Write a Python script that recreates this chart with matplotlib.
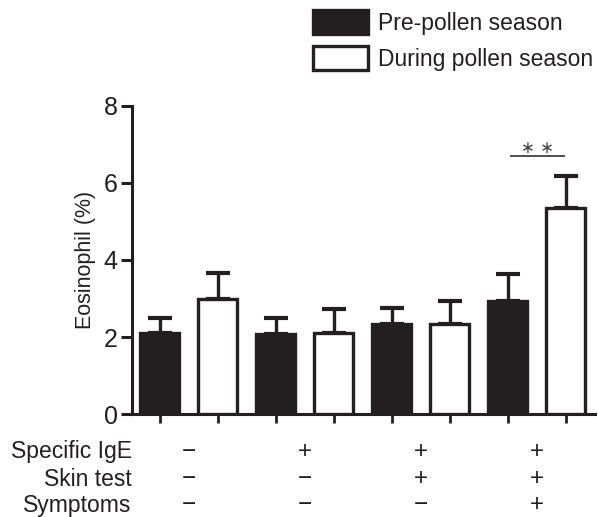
import numpy as np
import matplotlib
matplotlib.use("Agg")
import matplotlib.pyplot as plt

plt.rcParams['font.family'] = ['Liberation Sans', 'DejaVu Sans']

# values
groups = ['IgE- Skin- Sym-', 'IgE+ Skin- Sym-', 'IgE+ Skin+ Sym-', 'IgE+ Skin+ Sym+']
pre_mean = [2.10, 2.07, 2.34, 2.94]
pre_err = [0.39, 0.42, 0.41, 0.71]
during_mean = [2.98, 2.10, 2.33, 5.34]
during_err = [0.69, 0.62, 0.60, 0.83]
series_names = ['Pre-pollen season', 'During pollen season']

row_names = ['Specific IgE', 'Skin test', 'Symptoms']
ige = ['\u2212', '+', '+', '+']
skin = ['\u2212', '\u2212', '+', '+']
symptoms = ['\u2212', '\u2212', '\u2212', '+']

dark = '#231f20'

fig = plt.figure(figsize=(5.98, 5.17), dpi=100)
ax = fig.add_axes([0.2202, 0.1986, 0.7748, 0.597])

n = len(groups)
x_pre = np.arange(n) * 2
x_dur = x_pre + 1
w = 0.68

b1 = ax.bar(x_pre, pre_mean, width=w, color=dark, edgecolor=dark, linewidth=2.4,
            label=series_names[0], zorder=3)
b2 = ax.bar(x_dur, during_mean, width=w, color='white', edgecolor=dark, linewidth=2.4,
            label=series_names[1], zorder=3)

ax.errorbar(x_pre, pre_mean, yerr=[np.zeros(n), pre_err], fmt='none', ecolor=dark,
            elinewidth=2.4, capsize=8.3, capthick=3.0, zorder=2)
ax.errorbar(x_dur, during_mean, yerr=[np.zeros(n), during_err], fmt='none', ecolor=dark,
            elinewidth=2.4, capsize=8.3, capthick=3.0, zorder=2)

# significance marker over last pair
ax.plot([6.04, 6.99], [6.70, 6.70], color=dark, lw=1.1, solid_capstyle='butt')
ax.text(6.52, 6.91, '\u2217 \u2217', ha='center', va='center', fontsize=12,
        color='#444444', family='DejaVu Sans')

ax.set_xlim(-0.483, 7.505)
ax.set_ylim(0, 8)
ax.set_yticks([0, 2, 4, 6, 8])
ax.set_xticks(np.arange(2 * n))
ax.set_xticklabels([])

for s in ['top', 'right']:
    ax.spines[s].set_visible(False)
for s in ['left', 'bottom']:
    ax.spines[s].set_linewidth(2.2)
    ax.spines[s].set_color(dark)

ax.tick_params(axis='y', direction='out', length=8, width=2.2, color=dark,
               labelsize=18, pad=2, labelcolor=dark)
ax.tick_params(axis='x', direction='out', length=6.5, width=2.0, color=dark)

ax.set_ylabel('Eosinophil (%)', fontsize=15.5, color=dark)
ax.yaxis.set_label_coords(-0.078, 0.5)

# sign table under the axis
centers = (x_pre + x_dur) / 2
row_y = [-0.122, -0.2096, -0.295]
trans = ax.get_xaxis_transform()
for name, signs, yy in zip(row_names, [ige, skin, symptoms], row_y):
    ax.text(0, yy, name, transform=ax.transAxes, ha='right', va='center',
            fontsize=16.5, color=dark)
    for cx, sg in zip(centers, signs):
        ax.text(cx, yy, sg, transform=trans, ha='center', va='center',
                fontsize=17.5, color=dark)

leg = ax.legend(handles=[b1, b2], loc='upper left',
                bbox_to_anchor=(313 / 598, 1 - 10 / 517), bbox_transform=fig.transFigure,
                frameon=False, fontsize=16.5, borderpad=0, borderaxespad=0,
                handlelength=2.4, handleheight=1.22, handletextpad=0.45,
                labelspacing=0.5)
for t in leg.get_texts():
    t.set_color(dark)

fig.savefig('out.png', dpi=100)
